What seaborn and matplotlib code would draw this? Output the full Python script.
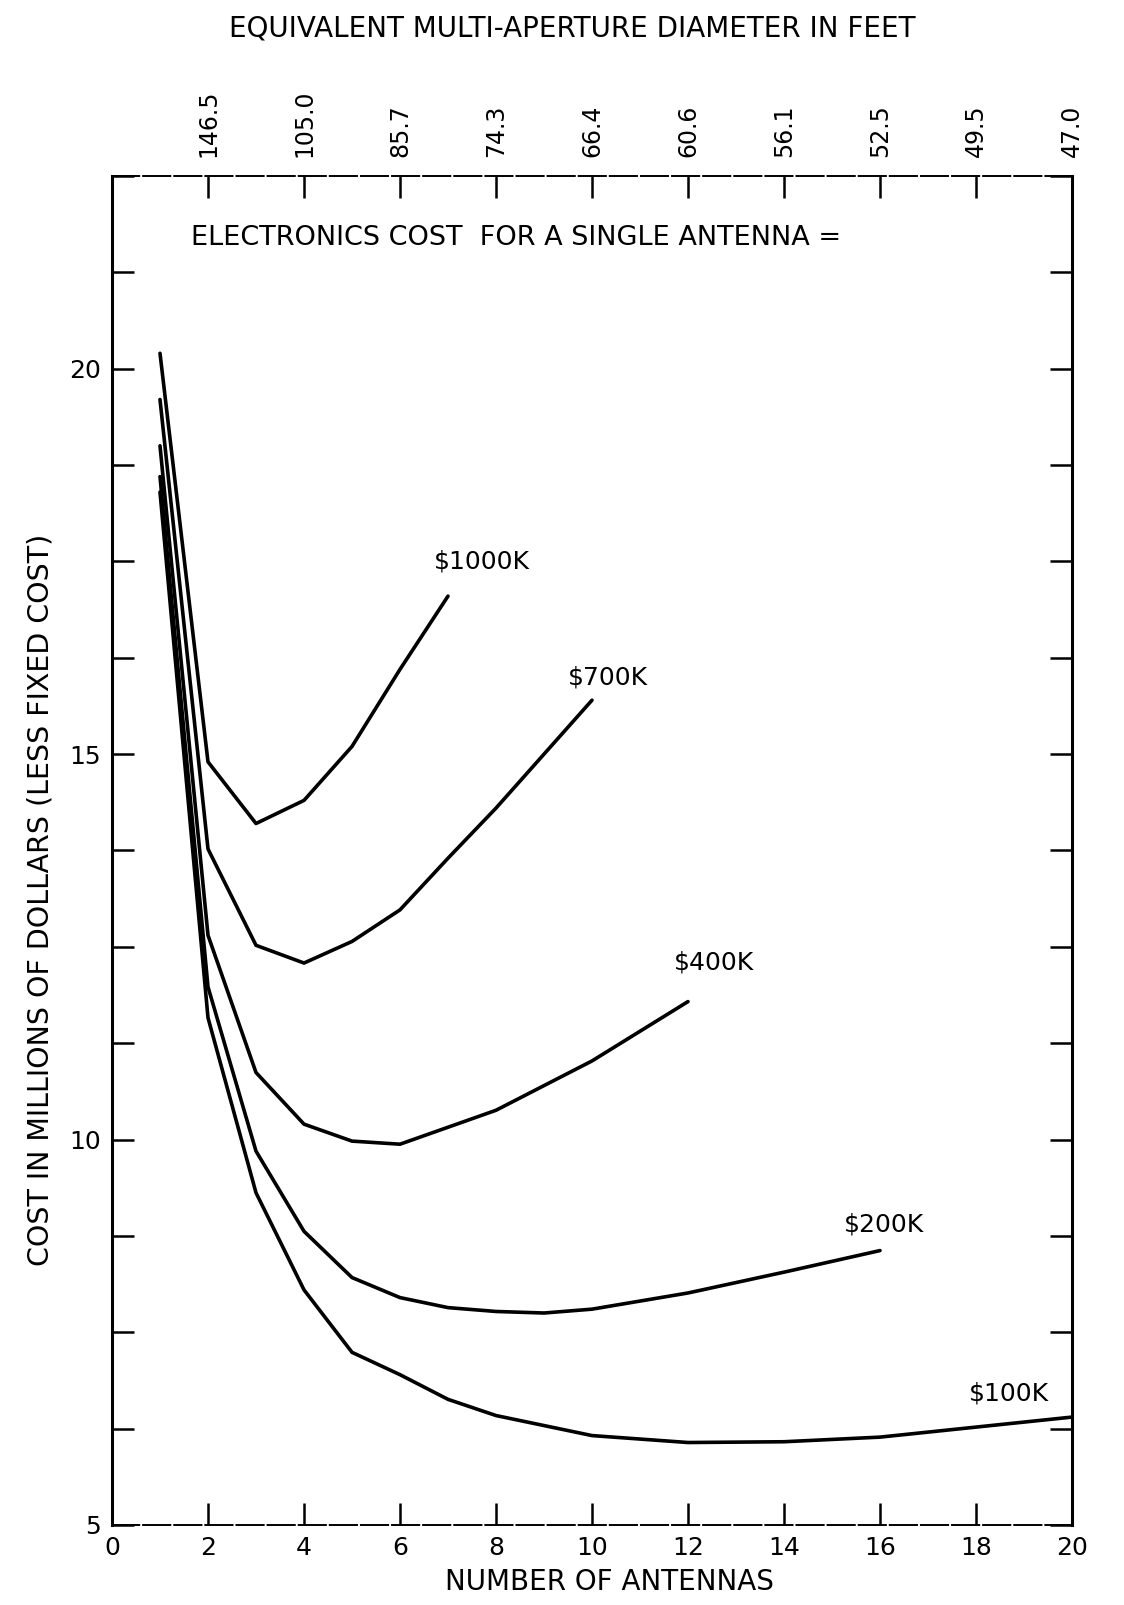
import numpy as np
import pandas as pd
import seaborn as sns
import matplotlib.pyplot as plt
from matplotlib.ticker import MultipleLocator

# number of antennas vs cost in millions of dollars (less fixed cost)
n_1000k = [1, 2, 3, 4, 5, 6, 7]
cost_1000k = [20.2, 14.9, 14.1, 14.4, 15.1, 16.1, 17.05]
n_700k = [1, 2, 3, 4, 5, 6, 7, 8, 9, 10]
cost_700k = [19.6, 13.77, 12.52, 12.29, 12.57, 12.98, 13.65, 14.3, 15.0, 15.7]
n_400k = [1, 2, 3, 4, 5, 6, 8, 10, 12]
cost_400k = [19.0, 12.65, 10.87, 10.2, 9.98, 9.94, 10.38, 11.02, 11.79]
n_200k = [1, 2, 3, 4, 5, 6, 7, 8, 9, 10, 12, 14, 16]
cost_200k = [18.6, 11.98, 9.85, 8.81, 8.21, 7.95, 7.82, 7.77, 7.75, 7.8, 8.01, 8.28, 8.56]
n_100k = [1, 2, 3, 4, 5, 6, 7, 8, 10, 12, 14, 16, 18, 20]
cost_100k = [18.4, 11.58, 9.31, 8.05, 7.24, 6.95, 6.63, 6.42, 6.16, 6.07, 6.08, 6.14, 6.27, 6.4]

series_names = ['$1000K', '$700K', '$400K', '$200K', '$100K']

# top axis: equivalent multi-aperture diameter in feet
top_ticks = [2, 4, 6, 8, 10, 12, 14, 16, 18, 20]
diameters = ['146.5', '105.0', '85.7', '74.3', '66.4', '60.6', '56.1', '52.5', '49.5', '47.0']

frames = []
for name, n, c in zip(series_names,
                      [n_1000k, n_700k, n_400k, n_200k, n_100k],
                      [cost_1000k, cost_700k, cost_400k, cost_200k, cost_100k]):
    frames.append(pd.DataFrame({'antennas': n, 'cost': c, 'electronics': name}))
df = pd.concat(frames, ignore_index=True)

sns.set_style('white')
plt.rcParams['font.family'] = ['DejaVu Sans']
plt.rcParams['text.color'] = 'black'
plt.rcParams['xtick.color'] = 'black'
plt.rcParams['ytick.color'] = 'black'

fig = plt.figure(figsize=(11.24, 16.05), dpi=100)
ax = fig.add_axes([112 / 1124, 1 - 1525 / 1605, 960 / 1124, (1525 - 176) / 1605])

sns.lineplot(data=df, x='antennas', y='cost', hue='electronics', units='electronics',
             estimator=None, sort=False, palette={k: 'black' for k in series_names},
             linewidth=2.6, legend=False, ax=ax)

ax.set_xlim(0, 20)
ax.set_ylim(5, 22.5)
ax.set_xlabel('')
ax.set_ylabel('')

ax.set_xticks(np.arange(0, 21, 2))
ax.set_yticks([5, 10, 15, 20])
ax.yaxis.set_minor_locator(MultipleLocator(1.25))
ax.tick_params(axis='both', which='both', direction='in', length=16, width=1.8,
               colors='black', labelsize=18, labelcolor='black')
ax.tick_params(axis='y', which='both', left=True, right=True, pad=8)
ax.tick_params(axis='x', which='both', bottom=True, top=False, pad=8)

for side in ['left', 'right']:
    ax.spines[side].set_linewidth(2.2)
    ax.spines[side].set_color('black')
for side in ['top', 'bottom']:
    ax.spines[side].set_linewidth(1.4)
    ax.spines[side].set_color('black')
    ax.spines[side].set_linestyle((0, (14, 2)))

ax2 = ax.twiny()
ax2.set_xlim(ax.get_xlim())
ax2.set_xticks(top_ticks)
ax2.set_xticklabels(diameters, rotation=90)
ax2.tick_params(axis='x', direction='in', top=True, length=16, width=1.8, labelsize=17,
                pad=14, colors='black', labelcolor='black')
for side in ['left', 'right', 'top', 'bottom']:
    ax2.spines[side].set_visible(False)

# curve labels
label_x = [6.7, 9.5, 11.7, 15.25, 17.85]
label_y = [17.5, 16.0, 12.3, 8.9, 6.7]
for name, lx, ly in zip(series_names, label_x, label_y):
    ax.text(lx, ly, name.replace('$', r'\$'), fontsize=18, ha='left', va='center',
            color='black')

ax.text(1.65, 21.69, 'ELECTRONICS COST  FOR A SINGLE ANTENNA =', fontsize=19.5,
        ha='left', va='center', color='black')

fig.text(572 / 1124, 1 - 28 / 1605, 'EQUIVALENT MULTI-APERTURE DIAMETER IN FEET',
         fontsize=20, ha='center', va='center', color='black')
fig.text(609 / 1124, 1 - 1582 / 1605, 'NUMBER OF ANTENNAS',
         fontsize=20, ha='center', va='center', color='black')
fig.text(41 / 1124, 1 - 900 / 1605, 'COST IN MILLIONS OF DOLLARS (LESS FIXED COST)',
         fontsize=20.5, ha='center', va='center', rotation=90, color='black')

fig.savefig('out.png', dpi=100)
